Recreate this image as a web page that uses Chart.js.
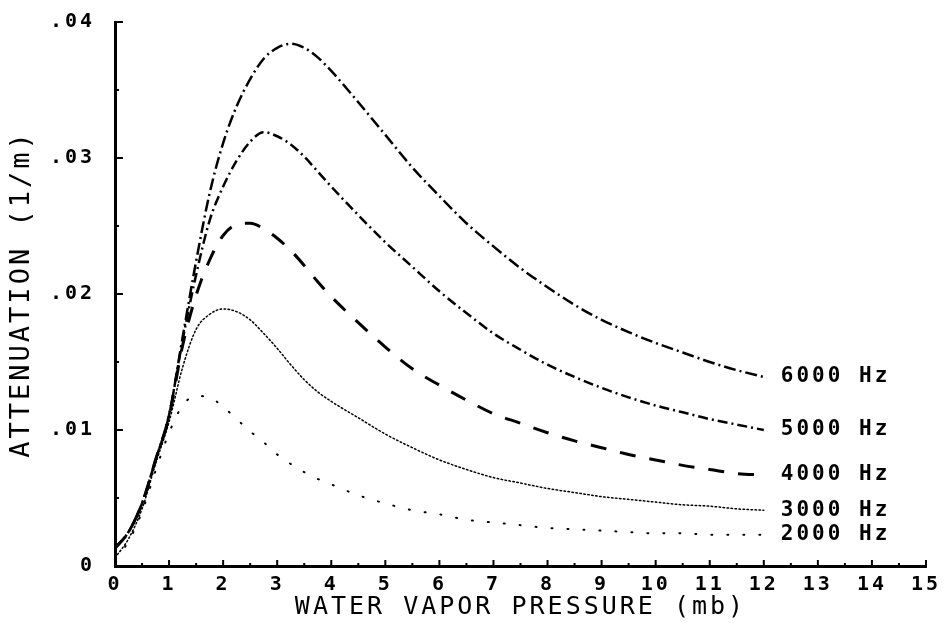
<!DOCTYPE html>
<html>
<head>
<meta charset="utf-8">
<script src="https://cdn.jsdelivr.net/npm/chart.js@4/dist/chart.umd.min.js"></script>
<style>
  html, body { margin: 0; padding: 0; background: #fff; }
  #wrap { width: 944px; height: 623px; }
</style>
</head>
<body>
<div id="wrap"><canvas id="myChart" width="944" height="623"></canvas></div>
<script>
// water vapor pressure (mb)
var pressure = [0, 0.25, 0.5, 0.75, 1, 1.25, 1.5, 1.75, 2, 2.25, 2.5, 2.75, 3, 3.25, 3.5, 3.75, 4,
    4.5, 5, 5.5, 6, 6.5, 7, 7.5, 8, 8.5, 9, 9.5, 10, 10.5, 11, 11.5, 12];

// attenuation (1/m)
var att6000 = [0.0013, 0.0025, 0.0046, 0.0078, 0.0111, 0.0168, 0.0224, 0.0274, 0.0311, 0.0338, 0.0358, 0.0373, 0.0381, 0.0384, 0.0381, 0.0374, 0.0364,
    0.0341, 0.0317, 0.0293, 0.0272, 0.0252, 0.0235, 0.0219, 0.0205, 0.0192, 0.0181, 0.0172, 0.0164, 0.0157, 0.0150, 0.0144, 0.0139];
var att5000 = [0.0013, 0.0025, 0.0046, 0.0078, 0.0111, 0.0166, 0.0214, 0.0254, 0.0279, 0.0298, 0.0312, 0.0319, 0.0316, 0.0310, 0.0301, 0.0290, 0.0279,
    0.0258, 0.0238, 0.0220, 0.0202, 0.0186, 0.0171, 0.0159, 0.0148, 0.0139, 0.0131, 0.0124, 0.0118, 0.0113, 0.0108, 0.0104, 0.0100];
var att4000 = [0.0013, 0.0025, 0.0046, 0.0078, 0.0110, 0.0162, 0.0199, 0.0225, 0.0243, 0.0251, 0.0252, 0.0248, 0.0241, 0.0232, 0.0221, 0.0209, 0.0198,
    0.0179, 0.0161, 0.0145, 0.0133, 0.0122, 0.0112, 0.0105, 0.0098, 0.0092, 0.0087, 0.0082, 0.0078, 0.0074, 0.0071, 0.0068, 0.0067];
var att3000 = [0.0006, 0.0020, 0.0042, 0.0075, 0.0106, 0.0146, 0.0174, 0.0185, 0.0189, 0.0187, 0.0181, 0.0171, 0.0160, 0.0148, 0.0137, 0.0128, 0.0121,
    0.0109, 0.0097, 0.0087, 0.0078, 0.0071, 0.0065, 0.0061, 0.0057, 0.0054, 0.0051, 0.0049, 0.0047, 0.0045, 0.0044, 0.0042, 0.0041];
var att2000 = [0.0005, 0.0018, 0.0040, 0.0070, 0.0098, 0.0118, 0.0125, 0.0124, 0.0117, 0.0108, 0.0099, 0.0091, 0.0082, 0.0075, 0.0069, 0.0064, 0.0060,
    0.0052, 0.0046, 0.0041, 0.0038, 0.0034, 0.0032, 0.0030, 0.0028, 0.0027, 0.0026, 0.0025, 0.0024, 0.0024, 0.0023, 0.0023, 0.0023];

var seriesLabels = ['6000 Hz', '5000 Hz', '4000 Hz', '3000 Hz', '2000 Hz'];
var yTicks = [0, 0.01, 0.02, 0.03, 0.04];
var yTickText = ['0', '.01', '.02', '.03', '.04'];

var MONO = '"DejaVu Sans Mono", "Liberation Mono", monospace';

function points(ys) {
    return pressure.map(function (p, i) { return {x: p, y: ys[i]}; });
}

function line(label, ys, dash, width, cap) {
    return {
        label: label,
        data: points(ys),
        borderColor: '#000',
        borderWidth: width,
        borderDash: dash,
        borderCapStyle: cap,
        pointRadius: 0,
        fill: false,
        cubicInterpolationMode: 'monotone'
    };
}

// old plotter text is widely spaced
var spacing = {
    id: 'spacing',
    beforeUpdate: function (c) { c.ctx.letterSpacing = '3px'; },
    beforeDraw: function (c) { c.ctx.letterSpacing = '3px'; }
};

// tick marks point into the plot, plus the curve labels at the right
var marks = {
    id: 'marks',
    afterDraw: function (c) {
        var ctx = c.ctx, xs = c.scales.x, ys = c.scales.y;
        ctx.save();
        ctx.strokeStyle = '#000';
        ctx.lineWidth = 2;
        ctx.beginPath();
        for (var v = 0; v <= 0.04001; v += 0.005) {
            var py = ys.getPixelForValue(v);
            var major = Math.abs(v * 100 - Math.round(v * 100)) < 1e-6;
            ctx.moveTo(xs.left, py);
            ctx.lineTo(xs.left + (major ? 8 : 4), py);
        }
        for (var u = 0; u <= 15.001; u += 0.5) {
            var px = xs.getPixelForValue(u);
            var maj = Math.abs(u - Math.round(u)) < 1e-6;
            ctx.moveTo(px, ys.bottom);
            ctx.lineTo(px, ys.bottom - (maj ? 6 : 3));
        }
        ctx.stroke();

        ctx.fillStyle = '#000';
        ctx.font = 'bold 21px ' + MONO;
        ctx.letterSpacing = '3px';
        ctx.textBaseline = 'middle';
        ctx.textAlign = 'left';
        c.data.datasets.forEach(function (ds, i) {
            var meta = c.getDatasetMeta(i);
            var last = meta.data[meta.data.length - 1];
            ctx.fillText(ds.label, last.x + 17, last.y);
        });
        ctx.restore();
    }
};

var ctx = document.getElementById('myChart').getContext('2d');
var myChart = new Chart(ctx, {
    type: 'line',
    data: {
        datasets: [
            line(seriesLabels[0], att6000, [12, 4, 2, 4], 2.5, 'butt'),
            line(seriesLabels[1], att5000, [10, 4, 2, 4], 2.5, 'butt'),
            line(seriesLabels[2], att4000, [16, 14], 3, 'butt'),
            line(seriesLabels[3], att3000, [1.5, 2.5], 1.5, 'round'),
            line(seriesLabels[4], att2000, [1, 15], 2, 'round')
        ]
    },
    options: {
        responsive: false,
        animation: false,
        layout: {padding: {top: 22, right: 18, left: 0, bottom: 0}},
        plugins: {legend: {display: false}, tooltip: {enabled: false}},
        scales: {
            x: {
                type: 'linear',
                min: 0, max: 15,
                afterFit: function (s) { s.height = 57; s.paddingLeft = 0; s.paddingRight = 0; },
                grid: {display: true, drawOnChartArea: false, drawTicks: false},
                border: {display: true, color: '#000', width: 3},
                ticks: {
                    stepSize: 1, autoSkip: false, maxRotation: 0, padding: 7,
                    color: '#000', font: {family: MONO, size: 20, weight: 'bold'}
                },
                title: {
                    display: true, text: 'WATER VAPOR PRESSURE (mb)', color: '#000',
                    font: {family: MONO, size: 25, lineHeight: 1.2}, padding: {top: 0, bottom: 1}
                }
            },
            y: {
                type: 'linear',
                min: 0, max: 0.04,
                afterFit: function (s) { s.width = 115; s.paddingTop = 0; s.paddingBottom = 0; },
                afterBuildTicks: function (s) {
                    s.ticks = yTicks.map(function (v) { return {value: v}; });
                },
                grid: {display: true, drawOnChartArea: false, drawTicks: false},
                border: {display: true, color: '#000', width: 3},
                ticks: {
                    padding: 20, color: '#000',
                    font: {family: MONO, size: 20, weight: 'bold'},
                    callback: function (v) { return yTickText[yTicks.indexOf(v)]; }
                },
                title: {
                    display: true, text: 'ATTENUATION (1/m)', color: '#000',
                    font: {family: MONO, size: 27, lineHeight: 1.2}, padding: {top: 6, bottom: 0}
                }
            }
        }
    },
    plugins: [spacing, marks]
});
</script>
</body>
</html>
